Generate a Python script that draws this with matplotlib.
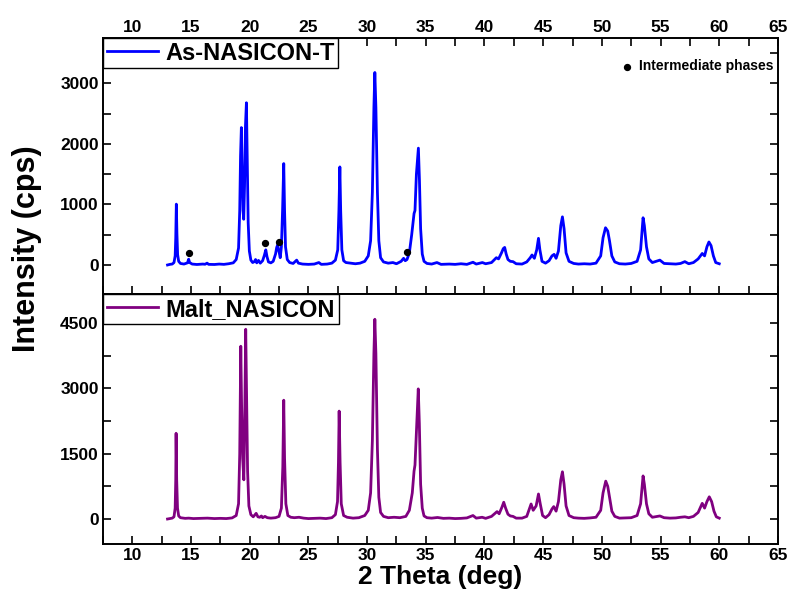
import matplotlib.pyplot as plt
from matplotlib.ticker import MultipleLocator

# As-NASICON-T pattern (2theta, cps)
top_x = [13.0, 13.2, 13.4, 13.55, 13.65, 13.7, 13.75, 13.8, 13.86, 13.95, 14.1, 14.4, 14.7, 14.8, 14.88,
         15.1, 15.5, 16.0, 16.2, 16.37, 16.5, 17.0, 17.4, 17.8, 18.2, 18.6, 18.85, 19.05, 19.15, 19.22,
         19.29, 19.36, 19.43, 19.49, 19.56, 19.64, 19.72, 19.79, 19.87, 19.97, 20.1, 20.25, 20.4, 20.5,
         20.6, 20.75, 20.9, 21.1, 21.25, 21.37, 21.47, 21.6, 21.8, 22.0, 22.2, 22.3, 22.38, 22.45, 22.52,
         22.6, 22.7, 22.8, 22.9, 22.97, 23.05, 23.2, 23.4, 23.7, 24.0, 24.15, 24.5, 25.0, 25.5, 25.89,
         26.1, 26.6, 27.0, 27.3, 27.5, 27.6, 27.68, 27.75, 27.85, 28.0, 28.2, 28.6, 29.0, 29.4, 29.8,
         30.1, 30.3, 30.45, 30.58, 30.66, 30.75, 30.88, 31.0, 31.15, 31.4, 31.8, 32.2, 32.5, 32.9, 33.11,
         33.25, 33.4, 33.6, 33.8, 34.0, 34.08, 34.2, 34.37, 34.46, 34.56, 34.7, 34.85, 35.1, 35.5, 35.95,
         36.3, 37.0, 37.5, 38.0, 38.5, 39.02, 39.3, 39.82, 40.1, 40.6, 41.01, 41.2, 41.45, 41.6, 41.72,
         41.85, 42.0, 42.2, 42.43, 42.7, 43.2, 43.6, 43.9, 44.05, 44.25, 44.45, 44.6, 44.72, 44.9, 45.2,
         45.5, 45.75, 45.93, 46.1, 46.3, 46.5, 46.64, 46.78, 46.95, 47.2, 47.6, 48.0, 48.5, 49.0, 49.5,
         49.9, 50.1, 50.31, 50.5, 50.65, 50.85, 51.1, 51.5, 52.0, 52.5, 53.0, 53.3, 53.51, 53.62, 53.8,
         54.0, 54.3, 54.94, 55.3, 55.8, 56.3, 56.7, 57.07, 57.4, 57.8, 58.2, 58.55, 58.75, 58.95, 59.12,
         59.3, 59.5, 59.7, 60.0]
top_y = [0, 10, 15, 40, 150, 450, 1005, 520, 170, 60, 25, 15, 35, 95, 40,
         15, 8, 15, 12, 30, 10, 8, 15, 10, 20, 35, 90, 280, 900, 1800,
         2270, 1500, 900, 755, 1300, 2300, 2680, 1800, 700, 230, 80, 40, 55, 90,
         35, 75, 30, 70, 160, 250, 140, 50, 35, 60, 180, 290, 330, 260, 200,
         120, 300, 900, 1675, 900, 300, 90, 40, 25, 80, 30, 15, 10, 15, 40,
         10, 15, 30, 80, 250, 900, 1620, 900, 250, 70, 40, 30, 20, 30, 60,
         150, 400, 1200, 2600, 3180, 2600, 1200, 400, 120, 50, 30, 40, 20, 60, 110,
         70, 90, 200, 500, 850, 900, 1500, 1930, 1400, 600, 180, 60, 25, 15, 40,
         10, 15, 10, 20, 10, 45, 15, 40, 20, 40, 120, 100, 200, 270, 290,
         180, 90, 60, 55, 20, 15, 50, 120, 165, 110, 250, 440, 250, 60, 30,
         70, 150, 175, 110, 230, 650, 795, 600, 200, 60, 25, 15, 20, 15, 30,
         150, 450, 615, 560, 400, 150, 50, 20, 15, 25, 60, 250, 780, 650, 300,
         100, 40, 80, 25, 20, 15, 25, 55, 20, 40, 100, 190, 150, 300, 380,
         320, 150, 40, 20]

# Malt_NASICON pattern (2theta, cps)
bot_x = [13.0, 13.2, 13.4, 13.55, 13.65, 13.7, 13.73, 13.78, 13.85, 13.95, 14.1, 14.5, 14.8, 15.2, 16.0,
         16.4, 17.0, 17.5, 18.0, 18.5, 18.85, 19.05, 19.15, 19.24, 19.31, 19.4, 19.5, 19.57, 19.66, 19.73,
         19.82, 19.93, 20.1, 20.3, 20.55, 20.7, 20.85, 21.0, 21.1, 21.3, 21.5, 21.8, 22.2, 22.5, 22.7,
         22.82, 22.9, 22.97, 23.08, 23.25, 23.5, 23.8, 24.2, 24.6, 25.0, 25.5, 26.0, 26.5, 27.0, 27.3,
         27.48, 27.56, 27.62, 27.7, 27.8, 28.0, 28.3, 28.8, 29.3, 29.8, 30.1, 30.3, 30.45, 30.58, 30.66,
         30.75, 30.88, 31.0, 31.15, 31.4, 31.8, 32.3, 32.8, 33.3, 33.6, 33.85, 34.0, 34.08, 34.2, 34.36,
         34.45, 34.56, 34.7, 34.85, 35.1, 35.5, 36.0, 36.5, 37.0, 37.5, 38.0, 38.5, 39.02, 39.3, 39.8,
         40.1, 40.6, 41.07, 41.25, 41.5, 41.64, 41.8, 42.0, 42.2, 42.43, 42.7, 43.2, 43.6, 43.85, 43.97,
         44.15, 44.4, 44.6, 44.75, 44.95, 45.2, 45.5, 45.75, 45.9, 46.1, 46.3, 46.5, 46.64, 46.78, 46.95,
         47.2, 47.6, 48.0, 48.5, 49.0, 49.5, 49.9, 50.1, 50.33, 50.5, 50.65, 50.85, 51.1, 51.5, 52.0,
         52.5, 53.0, 53.3, 53.51, 53.62, 53.8, 54.0, 54.3, 54.94, 55.3, 55.8, 56.3, 56.7, 57.07, 57.4,
         57.8, 58.2, 58.55, 58.75, 58.95, 59.15, 59.35, 59.55, 59.75, 60.0]
bot_y = [0, 10, 20, 50, 250, 900, 1970, 900, 250, 70, 30, 15, 20, 10, 15,
         20, 10, 15, 10, 25, 80, 350, 1500, 3970, 2600, 1400, 900, 2200, 4360, 3000,
         1100, 300, 100, 50, 130, 50, 40, 70, 30, 60, 30, 20, 30, 60, 250,
         1200, 2730, 1400, 350, 80, 40, 30, 40, 20, 10, 15, 20, 10, 30, 100,
         400, 1300, 2480, 1300, 350, 80, 40, 20, 30, 80, 200, 600, 1800, 3800, 4590,
         3800, 1600, 500, 150, 60, 30, 40, 30, 60, 200, 600, 1100, 1240, 2000, 2990,
         2200, 800, 250, 70, 30, 20, 35, 15, 20, 10, 15, 25, 80, 20, 40,
         15, 60, 170, 120, 280, 385, 250, 110, 70, 60, 20, 20, 60, 250, 345,
         200, 300, 575, 350, 80, 30, 100, 230, 285, 180, 400, 900, 1085, 800, 300,
         80, 30, 20, 15, 25, 40, 200, 600, 870, 750, 500, 180, 60, 20, 25,
         30, 80, 350, 990, 800, 350, 120, 40, 70, 30, 20, 25, 40, 50, 30,
         60, 150, 360, 250, 400, 510, 400, 180, 50, 20]

# intermediate phase markers on the As-NASICON-T pattern
dot_x = [14.86, 21.34, 22.51, 33.42]
dot_y = [193, 364, 385, 215]

plt.rcParams['font.family'] = ['Liberation Sans', 'DejaVu Sans']
plt.rcParams['font.weight'] = 'bold'
plt.rcParams['axes.linewidth'] = 1.4

fig = plt.figure(figsize=(7.89, 6.03), dpi=100)
ax1 = fig.add_axes([0.1305, 0.5124, 0.8555, 0.4246])
ax2 = fig.add_axes([0.1305, 0.0978, 0.8555, 0.4146])

ax1.plot(top_x, top_y, color='#0000ff', lw=2.0, label='As-NASICON-T')
dots = ax1.scatter(dot_x, dot_y, s=18, color='black', zorder=3, label='Intermediate phases')
ax2.plot(bot_x, bot_y, color='#800080', lw=2.0, label='Malt_NASICON')

ax1.set_ylim(-480, 3750)
ax2.set_ylim(-575, 5170)
ax1.set_yticks([0, 1000, 2000, 3000])
ax2.set_yticks([0, 1500, 3000, 4500])
ax1.yaxis.set_minor_locator(MultipleLocator(500))
ax2.yaxis.set_minor_locator(MultipleLocator(750))

for ax in (ax1, ax2):
    ax.set_xlim(7.5, 65)
    ax.set_xticks(range(10, 66, 5))
    ax.xaxis.set_minor_locator(MultipleLocator(2.5))
    ax.tick_params(which='both', direction='in', width=1.2, labelsize=12.5, right=True, pad=3)
    ax.tick_params(which='major', length=6)
    ax.tick_params(which='minor', length=6)
    for lab in ax.get_xticklabels() + ax.get_yticklabels():
        lab.set_fontweight('bold')

ax1.tick_params(which='both', top=True, labeltop=True, labelbottom=False)
ax1.tick_params(axis='x', pad=2)
ax2.tick_params(which='both', top=False)

leg1 = ax1.legend(handles=[ax1.lines[0]], loc='upper left', bbox_to_anchor=(0, 1), borderaxespad=0,
                  fancybox=False, edgecolor='black', framealpha=1, handlelength=2.2, handletextpad=0.3,
                  borderpad=0.15, prop={'size': 17, 'weight': 'bold'})
leg1.get_frame().set_linewidth(1.0)
ax1.add_artist(leg1)
ax1.legend(handles=[dots], loc='upper right', bbox_to_anchor=(1.012, 0.965), frameon=False,
           handlelength=0.8, handletextpad=0.5, prop={'size': 10, 'weight': 'bold'})

leg2 = ax2.legend(loc='upper left', bbox_to_anchor=(0, 1), borderaxespad=0,
                  fancybox=False, edgecolor='black', framealpha=1, handlelength=2.2, handletextpad=0.3,
                  borderpad=0.15, prop={'size': 17, 'weight': 'bold'})
leg2.get_frame().set_linewidth(1.0)

ax2.set_xlabel('2 Theta (deg)', fontsize=19, fontweight='bold', labelpad=1)
fig.text(0.034, 0.587, 'Intensity (cps)', rotation=90, ha='center', va='center',
         fontsize=22, fontweight='bold')

fig.savefig('out.png', dpi=100)
